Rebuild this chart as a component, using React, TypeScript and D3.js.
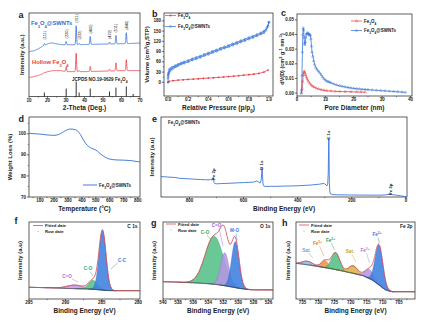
import React from 'react';
import * as d3 from 'd3';

const F = "'Liberation Sans', Arial, Helvetica, sans-serif";
const BLUE = '#2f6fd8';
const RED = '#e63a40';
const INK = '#1a1a1a';

// ---------------- (a) XRD ----------------
const xrdHkl = ['(111)', '(220)', '(311)', '(222)', '(400)', '(422)', '(511)', '(440)'];
const xrdPos = [18.3, 30.1, 35.5, 37.1, 43.1, 53.5, 57.0, 62.6];
const xrdSwntH = [2, 4, 22.6, 1.5, 9.5, 2.4, 10, 13];
const xrdHollowH = [0.6, 6, 22, 1.2, 6, 2, 9.5, 13];
const xrdSwntBase = [[10, 53.6], [13, 55], [15, 57], [18, 61], [20, 63], [22, 64.3], [25, 63], [28, 62], [35, 62], [45, 62.5], [55, 63], [65, 63.5], [70, 64]];
const xrdHollowBase = [[10, 22.6], [15, 25], [20, 29.8], [23, 31], [27, 31], [30, 29.8], [40, 29.8], [50, 30.3], [60, 31], [70, 31]];
const jcpdsPos = [18.3, 30.1, 35.5, 37.1, 43.1, 53.5, 57.0, 62.6, 66.3];
const jcpdsH = [4.8, 9.5, 17.9, 4.8, 9.5, 6, 10.7, 11.9, 3];

// ---------------- (b) N2 isotherms ----------------
const betFe = [[0, 0], [0.01, 3], [0.05, 5], [0.1, 6.5], [0.15, 7.5], [0.2, 8.5], [0.25, 9.5], [0.3, 10.5], [0.35, 11.5], [0.4, 12.5], [0.45, 13.5], [0.5, 14.5], [0.55, 15.5], [0.6, 17], [0.65, 18], [0.7, 19.5], [0.75, 21], [0.8, 22.5], [0.85, 24], [0.9, 26], [0.95, 30], [0.99, 36]];
const betSwAds = [[0, 0], [0.0005, 12], [0.001, 18], [0.002, 22], [0.004, 25], [0.007, 28], [0.01, 30], [0.02, 34], [0.04, 39], [0.06, 43], [0.08, 46], [0.1, 49], [0.13, 53], [0.16, 56], [0.2, 60], [0.24, 65], [0.28, 69], [0.32, 73], [0.36, 78], [0.4, 82], [0.44, 87], [0.48, 91], [0.52, 96], [0.56, 100], [0.6, 104], [0.64, 109], [0.68, 113], [0.72, 118], [0.76, 122], [0.8, 127], [0.84, 131], [0.88, 136], [0.92, 141], [0.95, 145], [0.97, 152], [0.99, 165], [1.0, 176]];
const betSwDes = [[1.0, 176], [0.98, 160], [0.95, 150], [0.92, 145], [0.88, 140], [0.84, 135], [0.8, 131], [0.76, 126], [0.72, 122], [0.68, 117], [0.64, 113], [0.6, 108], [0.56, 104], [0.52, 100], [0.48, 95], [0.44, 91], [0.4, 86], [0.36, 82], [0.32, 77], [0.28, 73], [0.24, 69], [0.2, 64], [0.16, 60], [0.13, 57], [0.1, 53], [0.07, 49], [0.04, 44], [0.02, 40], [0.01, 36]];

// ---------------- (c) pore size distribution ----------------
const psdSw = [[1.5, 0], [1.6, 0.002], [1.75, 0.012], [1.9, 0.028], [2.05, 0.04], [2.2, 0.0445], [2.35, 0.043], [2.5, 0.038], [2.65, 0.034], [2.8, 0.033], [2.95, 0.035], [3.1, 0.038], [3.3, 0.04], [3.5, 0.041], [3.7, 0.0405], [3.9, 0.041], [4.1, 0.0405], [4.3, 0.0395], [4.5, 0.04], [4.7, 0.0395], [4.9, 0.037], [5.1, 0.032], [5.3, 0.028], [5.6, 0.025], [5.9, 0.022], [6.2, 0.0195], [6.6, 0.0175], [7.0, 0.0162], [7.5, 0.015], [8.0, 0.0138], [8.5, 0.0125], [9.0, 0.011], [9.5, 0.0098], [10, 0.0088], [10.5, 0.0082], [11, 0.0078], [11.5, 0.0074], [12, 0.007], [13, 0.0062], [14, 0.0055], [15, 0.005], [16, 0.0046], [17, 0.0042], [18, 0.0038], [19, 0.0035], [20, 0.0032], [21, 0.003], [22, 0.0028], [23, 0.0026], [24, 0.0025], [25, 0.0023], [26.5, 0.0021], [28, 0.0019], [29.5, 0.0017], [31, 0.0015], [32.5, 0.0013], [34, 0.0011], [35.5, 0.0009], [37, 0.0007], [38.2, 0.0005]];
const psdFe = [[1.6, 0], [1.8, 0.003], [2.0, 0.008], [2.2, 0.0125], [2.4, 0.0145], [2.6, 0.0148], [2.8, 0.0138], [3.0, 0.0125], [3.3, 0.011], [3.6, 0.0095], [4.0, 0.008], [4.5, 0.0066], [5.0, 0.0055], [5.5, 0.0047], [6.0, 0.0041], [6.8, 0.0034], [7.6, 0.0028], [8.5, 0.0023], [9.5, 0.0019], [10.5, 0.0016], [12, 0.0014], [13.5, 0.0012], [15, 0.0011], [17, 0.001], [19, 0.0009], [21, 0.0008], [22.5, 0.0007], [24, 0.0006]];

// ---------------- (d) TGA ----------------
const tga = [[21, 100.3], [50, 100.1], [100, 99.9], [150, 99.5], [200, 99.3], [230, 99.6], [260, 100.6], [290, 101.8], [320, 102.3], [350, 102], [370, 101.3], [390, 99.6], [410, 97.2], [430, 95.2], [450, 93.9], [470, 93.1], [500, 92.3], [520, 91.2], [550, 89.6], [575, 88.6], [600, 88], [650, 87.6], [700, 87.5], [750, 87.3], [800, 86.8], [815, 86.7]];

// ---------------- (e) XPS survey ----------------
const survey = [[905, 25.5], [880, 25], [860, 24.5], [850, 24.3], [840, 23.5], [820, 23], [800, 22.7], [780, 22.2], [760, 21.8], [740, 21.6], [726, 21.3], [723, 22.6], [720, 21.6], [714, 21.5], [712, 23.8], [711, 24], [709, 18], [706, 16.8], [700, 16.5], [680, 16.8], [650, 17.2], [620, 17.7], [600, 18], [580, 18.3], [560, 18.8], [551, 20], [545, 19], [539, 17.4], [535, 21], [533, 29], [531.5, 36], [530, 28], [528, 16], [525, 13.8], [520, 13.2], [500, 13.3], [450, 13.6], [400, 14], [350, 15], [320, 16], [306, 16.8], [300, 16.5], [295, 15], [292, 13.8], [289, 16], [287, 30], [285.8, 58], [284.8, 74], [284, 52], [283, 18], [281, 6], [278, 3.7], [270, 2.9], [250, 2.7], [200, 2.5], [150, 2.4], [100, 2.3], [80, 2.5], [70, 3], [60, 3.5], [56, 5], [53, 3.6], [50, 3], [40, 2.5], [30, 2], [20, 1.5], [10, 1], [0, 0.5], [-4, 0.3]];
const surveyPeaks = ['Fe 2p', 'O 1s', 'C 1s', 'Fe 3p'];
const surveyPeakBE = [711, 531.5, 284.8, 56];

// ---------------- (f) C 1s ----------------
const c1sBg = [[279.75, 8.3], [283.5, 8.3], [284.5, 8.6], [285.3, 9.2], [286, 9.6], [287, 10], [288, 10.2], [290, 10.6], [292, 11.2], [295, 11.7]];
const c1sNames = ['C=O', 'C-O', 'C-C'];
const c1sCenter = [288.7, 286.2, 284.9];
const c1sHeight = [3.5, 9, 59.5];
const c1sSigma = [1.1, 0.6, 0.48];

// ---------------- (g) O 1s ----------------
const o1sBg = [[525.4, 9], [528, 9.1], [529, 9.7], [530, 10.8], [531, 12.2], [532, 13.5], [533, 14.6], [534, 15.3], [536, 16.2], [538, 16.8], [540, 17.3]];
const o1sNames = ['C-O', 'C=O', 'M-O'];
const o1sCenter = [533.2, 531.8, 530.4];
const o1sHeight = [48, 33, 46];
const o1sSigma = [1.2, 0.55, 0.5];

// ---------------- (h) Fe 2p ----------------
const fe2pBg = [[700, 7.3], [707, 7.3], [708, 7.8], [709.1, 9], [710, 11], [711.2, 14], [713.3, 19], [716, 23.2], [719, 25.5], [721.6, 27.3], [724, 29], [727, 30.8], [730, 32.5], [733, 34], [737, 35.7]];
const fe2pNames = ['Sat.', 'Fe3+', 'Fe2+', 'Sat.', 'Fe3+', 'Fe2+'];
const fe2pCenter = [733.5, 728.0, 724.7, 719.2, 714.2, 711.2];
const fe2pHeight = [3.5, 7, 17, 7.5, 9, 40];
const fe2pSigma = [1.6, 1.1, 1.3, 1.4, 1.3, 1.2];

// ---------------- helpers ----------------
const gauss = (x: number, c: number, h: number, s: number) => h * Math.exp(-((x - c) ** 2) / (2 * s * s));
const piece = (pts: number[][]) => d3.scaleLinear().domain(pts.map((d) => d[0])).range(pts.map((d) => d[1])).clamp(true);

const Sub = ({ t }: { t: string }) => (
  <tspan baselineShift="sub" fontSize="70%">{t}</tspan>
);
const Sup = ({ t }: { t: string }) => (
  <tspan baselineShift="super" fontSize="70%">{t}</tspan>
);
const FeO = () => (
  <>
    <tspan>Fe</tspan>
    <Sub t="3" />
    <tspan>O</tspan>
    <Sub t="4" />
  </>
);
const ionLabel = (n: string) => {
  const m = n.match(/^Fe(\d\+)$/);
  if (m) return (<><tspan>Fe</tspan><Sup t={m[1]} /></>);
  return n;
};

function Axes(p: any) {
  const [x0, y0, x1, y1] = p.box;
  const fx = p.xFmt || ((v: number) => String(v));
  const fy = p.yFmt || ((v: number) => String(v));
  const ty = p.yTitleY != null ? p.yTitleY : (y0 + y1) / 2;
  return (
    <g>
      <rect x={x0} y={y0} width={x1 - x0} height={y1 - y0} fill="none" stroke={INK} strokeWidth={0.7} />
      {(p.xMinor || []).map((t: number, i: number) => (
        <line key={'xm' + i} x1={p.xs(t)} x2={p.xs(t)} y1={y1} y2={y1 + 1.2} stroke={INK} strokeWidth={0.5} />
      ))}
      {p.xTicks.map((t: number, i: number) => (
        <g key={'x' + i}>
          <line x1={p.xs(t)} x2={p.xs(t)} y1={y1} y2={y1 + 2.2} stroke={INK} strokeWidth={0.6} />
          <text x={p.xs(t)} y={y1 + 5.4} fontSize={4.5} fontWeight="bold" textAnchor="middle" fill={INK}>{fx(t)}</text>
        </g>
      ))}
      {(p.yMinor || []).map((t: number, i: number) => (
        <line key={'ym' + i} x1={x0 - 1.2} x2={x0} y1={p.ys(t)} y2={p.ys(t)} stroke={INK} strokeWidth={0.5} />
      ))}
      {(p.yTicks || []).map((t: number, i: number) => (
        <g key={'y' + i}>
          <line x1={x0 - 2.2} x2={x0} y1={p.ys(t)} y2={p.ys(t)} stroke={INK} strokeWidth={0.6} />
          <text x={x0 - 3} y={p.ys(t) + 1.6} fontSize={4.5} fontWeight="bold" textAnchor="end" fill={INK}>{fy(t)}</text>
        </g>
      ))}
      <text x={(x0 + x1) / 2} y={y1 + 13.6} fontSize={6.5} fontWeight="bold" textAnchor="middle" fill={INK}>{p.xTitle}</text>
      <text transform={`translate(${p.yTitleX},${ty}) rotate(-90)`} fontSize={p.yTitleSize || 6} fontWeight="bold" textAnchor="middle" fill={INK}>{p.yTitle}</text>
      <text x={p.lx} y={p.ly} fontSize={9} fontWeight="bold" fill={INK}>{p.letter}</text>
    </g>
  );
}

// ---------------- panels ----------------
function PanelA() {
  const box = [29, 13, 140, 96.5];
  const xs = d3.scaleLinear().domain([10, 70]).range([29, 140]);
  const ys = d3.scaleLinear().domain([0, 100]).range([96.5, 13]);
  const grid = d3.range(10, 70.0001, 0.05);
  const make = (base: number[][], hs: number[]) => {
    const b = piece(base);
    return grid.map((x) => [x, b(x) + d3.sum(xrdPos, (p: number, i: number) => gauss(x, p, hs[i], 0.22))]);
  };
  const sw = make(xrdSwntBase, xrdSwntH);
  const ho = make(xrdHollowBase, xrdHollowH);
  const line = d3.line<number[]>().x((d) => xs(d[0])).y((d) => ys(d[1]));
  const bSw = piece(xrdSwntBase);
  return (
    <g>
      <Axes box={box} xs={xs} xTicks={d3.range(10, 71, 10)} xMinor={d3.range(15, 70, 10)}
        xTitle="2-Theta (Deg.)" yTitle="Intensity (a.u.)" yTitleX={24} letter="a" lx={18.5} ly={18} />
      <path d={line(ho) || ''} fill="none" stroke={RED} strokeWidth={0.8} />
      <path d={line(sw) || ''} fill="none" stroke={BLUE} strokeWidth={0.8} />
      {jcpdsPos.map((p, i) => (
        <line key={i} x1={xs(p)} x2={xs(p)} y1={ys(0)} y2={ys(jcpdsH[i])} stroke={INK} strokeWidth={0.9} />
      ))}
      {xrdHkl.map((h, i) => {
        const top = ys(bSw(xrdPos[i]) + xrdSwntH[i]);
        const bottom = Math.min(top - 3, 39.5);
        return (
          <text key={h} transform={`translate(${xs(xrdPos[i]) + 1.4},${bottom}) rotate(-90)`} fontSize={3.9} fill={INK}>{h}</text>
        );
      })}
      <text x={31} y={25} fontSize={5.8} fontWeight="bold" fill={BLUE}><FeO />@SWNTs</text>
      <text x={32} y={63.5} fontSize={5.8} fontWeight="bold" fill={RED}>Hollow <FeO /></text>
      <text x={72} y={81} fontSize={4.6} fontWeight="bold" fill={INK}>JCPDS NO.19-0629 <FeO /></text>
    </g>
  );
}

function PanelB() {
  const box = [164, 13, 273, 96];
  const xs = d3.scaleLinear().domain([-0.04, 1.04]).range([164, 273]);
  const ys = d3.scaleLinear().domain([-40, 203]).range([96, 13]);
  const line = d3.line<number[]>().x((d) => xs(d[0])).y((d) => ys(d[1]));
  return (
    <g>
      <Axes box={box} xs={xs} xTicks={d3.range(0, 1.01, 0.2)} xMinor={d3.range(0.1, 1, 0.2)} xFmt={(v: number) => v.toFixed(1)}
        ys={ys} yTicks={d3.range(0, 181, 30)} yMinor={d3.range(15, 180, 30)}
        xTitle={<><tspan>Relative Pressure (p/p</tspan><Sub t="0" /><tspan>)</tspan></>}
        yTitle={<><tspan>Volume (cm</tspan><Sup t="3" /><tspan>/g,STP)</tspan></>} yTitleX={149}
        letter="b" lx={152} ly={17} />
      <path d={line(betFe) || ''} fill="none" stroke={RED} strokeWidth={0.75} />
      {betFe.map((d, i) => <circle key={'r' + i} cx={xs(d[0])} cy={ys(d[1])} r={0.9} fill={RED} />)}
      <path d={line(betSwAds) || ''} fill="none" stroke={BLUE} strokeWidth={0.75} />
      <path d={line(betSwDes) || ''} fill="none" stroke={BLUE} strokeWidth={0.75} />
      {betSwAds.map((d, i) => <circle key={'a' + i} cx={xs(d[0])} cy={ys(d[1])} r={1} fill="none" stroke={BLUE} strokeWidth={0.5} />)}
      {betSwDes.map((d, i) => <circle key={'d' + i} cx={xs(d[0])} cy={ys(d[1])} r={1} fill="none" stroke={BLUE} strokeWidth={0.5} />)}
      <line x1={165} x2={176} y1={15.5} y2={15.5} stroke={RED} strokeWidth={0.7} />
      <circle cx={170.5} cy={15.5} r={0.9} fill={RED} />
      <text x={178} y={17.2} fontSize={4.5} fontWeight="bold" fill={INK}><FeO /></text>
      <line x1={165} x2={176} y1={26.5} y2={26.5} stroke={BLUE} strokeWidth={0.7} />
      <circle cx={170.5} cy={26.5} r={1} fill="none" stroke={BLUE} strokeWidth={0.5} />
      <text x={178} y={28.2} fontSize={4.5} fontWeight="bold" fill={INK}><FeO />@SWNTs</text>
    </g>
  );
}

function PanelC() {
  const box = [297, 14, 412, 96];
  const xs = d3.scaleLinear().domain([0, 40.5]).range([297, 412]);
  const ys = d3.scaleLinear().domain([-0.002, 0.054]).range([96, 14]);
  const line = d3.line<number[]>().x((d) => xs(d[0])).y((d) => ys(d[1]));
  const tri = d3.symbol().type(d3.symbolTriangle).size(2.6)() || '';
  return (
    <g>
      <Axes box={box} xs={xs} xTicks={[0, 10, 20, 30, 40]} xMinor={[5, 15, 25, 35]}
        ys={ys} yTicks={[0, 0.01, 0.02, 0.03, 0.04, 0.05]} yFmt={(v: number) => v.toFixed(2)}
        xTitle="Pore Diameter (nm)"
        yTitle={<><tspan>dV(D) (cm</tspan><Sup t="3" /><tspan> g</tspan><Sup t="-1" /><tspan> nm</tspan><Sup t="-1" /><tspan>)</tspan></>}
        yTitleX={284} yTitleY={59} yTitleSize={5.5} letter="c" lx={281} ly={16} />
      <path d={line(psdFe) || ''} fill="none" stroke={RED} strokeWidth={0.75} />
      {psdFe.map((d, i) => <path key={'r' + i} d={tri} transform={`translate(${xs(d[0])},${ys(d[1])})`} fill="none" stroke={RED} strokeWidth={0.4} />)}
      <path d={line(psdSw) || ''} fill="none" stroke={BLUE} strokeWidth={0.75} />
      {psdSw.map((d, i) => <path key={'b' + i} d={tri} transform={`translate(${xs(d[0])},${ys(d[1])})`} fill="none" stroke={BLUE} strokeWidth={0.4} />)}
      <line x1={351} x2={362} y1={21} y2={21} stroke={RED} strokeWidth={0.7} />
      <path d={tri} transform="translate(356.5,21)" fill="none" stroke={RED} strokeWidth={0.4} />
      <text x={364} y={22.7} fontSize={4.5} fontWeight="bold" fill={INK}><FeO /></text>
      <line x1={351} x2={362} y1={30.5} y2={30.5} stroke={BLUE} strokeWidth={0.7} />
      <path d={tri} transform="translate(356.5,30.5)" fill="none" stroke={BLUE} strokeWidth={0.4} />
      <text x={364} y={32.2} fontSize={4.5} fontWeight="bold" fill={INK}><FeO />@SWNTs</text>
    </g>
  );
}

function PanelD() {
  const box = [29, 117, 140, 197];
  const xs = d3.scaleLinear().domain([21, 816]).range([29, 140]);
  const ys = d3.scaleLinear().domain([70, 108]).range([197, 117]);
  const line = d3.line<number[]>().x((d) => xs(d[0])).y((d) => ys(d[1])).curve(d3.curveMonotoneX);
  return (
    <g>
      <Axes box={box} xs={xs} xTicks={d3.range(100, 801, 100)} xMinor={d3.range(50, 816, 100)}
        ys={ys} yTicks={[70, 80, 90, 100]} yMinor={[75, 85, 95, 105]}
        xTitle="Temperature (°C)" yTitle="Weight Loss (%)" yTitleX={12}
        letter="d" lx={18.5} ly={122} />
      <path d={line(tga) || ''} fill="none" stroke={BLUE} strokeWidth={0.9} />
      <line x1={83} x2={97} y1={185} y2={185} stroke={BLUE} strokeWidth={0.9} />
      <text x={99} y={186.6} fontSize={4.5} fontWeight="bold" fill={INK}><FeO />@SWNTs</text>
    </g>
  );
}

function PanelE() {
  const box = [161, 117, 407, 197];
  const xs = d3.scaleLinear().domain([905, -4]).range([161, 407]);
  const ys = d3.scaleLinear().domain([0, 100]).range([197, 117]);
  const line = d3.line<number[]>().x((d) => xs(d[0])).y((d) => ys(d[1]));
  const sv = piece([...survey].sort((a, b) => a[0] - b[0]));
  return (
    <g>
      <Axes box={box} xs={xs} xTicks={[800, 600, 400, 200, 0]} xMinor={[700, 500, 300, 100]}
        xTitle="Binding Energy (eV)" yTitle="Intensity (a.u)" yTitleX={154}
        letter="e" lx={152} ly={122} />
      <path d={line(survey) || ''} fill="none" stroke={BLUE} strokeWidth={0.85} />
      {surveyPeaks.map((n, i) => {
        const be = surveyPeakBE[i];
        const top = Math.min(ys(sv(be)), ys(sv(be + 1)));
        return (
          <text key={n} transform={`translate(${xs(be) + 1.2},${top + 2}) rotate(-90)`} fontSize={4.4} fontWeight="bold" fill={INK}>{n}</text>
        );
      })}
      <text x={168} y={124} fontSize={4.5} fontWeight="bold" fill={INK}><FeO />@SWNTs</text>
    </g>
  );
}

const FILLS: any = {
  blue: ['#3e80e0', '#2a63c0'],
  green: ['#55bf88', '#2f9a63'],
  purple: ['#b496e4', '#8a66c8'],
  pink: ['#c99ae6', '#9a6ccc'],
  orange: ['#f4924a', '#d7702a'],
  gold: ['#d9b449', '#b08d25'],
  sky: ['#95b9e8', '#6a94cc'],
};

function XpsPanel(p: any) {
  const [x0, y0, x1, y1] = p.box;
  const xs = d3.scaleLinear().domain(p.dom).range([x0, x1]);
  const ys = d3.scaleLinear().domain([0, y1 - y0]).range([y1, y0]);
  const bg = piece(p.bg);
  const lo = Math.min(p.dom[0], p.dom[1]);
  const hi = Math.max(p.dom[0], p.dom[1]);
  const grid = d3.range(lo, hi + 0.0001, 0.04);
  const env = grid.map((x) => [x, bg(x) + d3.sum(p.centers, (c: number, i: number) => gauss(x, c, p.heights[i], p.sigmas[i]))]);
  const line = d3.line<number[]>().x((d) => xs(d[0])).y((d) => ys(d[1]));
  const dots = d3.range(lo + 0.1, hi, p.dotStep).map((x) => [x, bg(x) + d3.sum(p.centers, (c: number, i: number) => gauss(x, c, p.heights[i], p.sigmas[i]))]);
  return (
    <g>
      <Axes box={p.box} xs={xs} xTicks={p.xTicks} xMinor={p.xMinor}
        xTitle="Binding Energy (eV)" yTitle="Intensity (a.u)" yTitleX={p.yTitleX}
        letter={p.letter} lx={p.lx} ly={p.ly} />
      {p.centers.map((c: number, i: number) => {
        const s = p.sigmas[i];
        const xsr = d3.range(Math.max(lo, c - 4 * s), Math.min(hi, c + 4 * s) + 0.0001, 0.03);
        const area = d3.area<number>().x((x) => xs(x)).y0((x) => ys(bg(x))).y1((x) => ys(bg(x) + gauss(x, c, p.heights[i], s)));
        const col = FILLS[p.colors[i]];
        return <path key={i} d={area(xsr) || ''} fill={col[0]} fillOpacity={0.88} stroke={col[1]} strokeWidth={0.35} />;
      })}
      <path d={line(grid.map((x) => [x, bg(x)])) || ''} fill="none" stroke="#2b2b3a" strokeWidth={0.75} />
      {dots.map((d, i) => <circle key={i} cx={xs(d[0])} cy={ys(d[1]) - 0.3} r={0.32} fill="#555" />)}
      <path d={line(env) || ''} fill="none" stroke="#e04850" strokeWidth={0.8} />
      {/* legend */}
      <line x1={p.legX} x2={p.legX + 10} y1={p.legY} y2={p.legY} stroke="#e04850" strokeWidth={0.8} />
      <text x={p.legX + 12} y={p.legY + 1.5} fontSize={4.2} fontWeight="bold" fill={INK}>Fitted date</text>
      <circle cx={p.legX + 5} cy={p.legY + 6} r={0.45} fill="#555" />
      <text x={p.legX + 12} y={p.legY + 7.5} fontSize={4.2} fontWeight="bold" fill={INK}>Row date</text>
      <text x={x1 - 2.5} y={y0 + 5.5} fontSize={4.8} fontWeight="bold" textAnchor="end" fill={INK}>{p.corner}</text>
      {p.labels.map((l: any, i: number) => (
        <g key={'l' + i}>
          <text x={l.x} y={l.y} fontSize={4.6} fontWeight="bold" textAnchor="middle" fill={l.c}>{ionLabel(p.names[i])}</text>
          <line x1={l.p[0]} y1={l.p[1]} x2={l.p[2]} y2={l.p[3]} stroke={l.c} strokeWidth={0.45} />
        </g>
      ))}
    </g>
  );
}

export default function App() {
  return (
    <svg width={421} height={326} viewBox="0 0 421 326" fontFamily={F}
      style={{ position: 'absolute', left: 0, top: 0, background: '#fff' }}>
      <rect width={421} height={326} fill="#fff" />
      <PanelA />
      <PanelB />
      <PanelC />
      <PanelD />
      <PanelE />
      <XpsPanel box={[29, 222, 140, 299]} dom={[295, 279.75]} bg={c1sBg}
        centers={c1sCenter} heights={c1sHeight} sigmas={c1sSigma} names={c1sNames}
        colors={['pink', 'green', 'blue']} xTicks={[295, 290, 285, 280]} xMinor={[292.5, 287.5, 282.5]}
        yTitleX={22} letter="f" lx={14.5} ly={224} legX={33} legY={225.5} corner="C 1s" dotStep={0.12}
        labels={[
          { x: 67, y: 278, c: '#b16fd6', p: [72, 279, 78, 282] },
          { x: 88, y: 270, c: '#33a866', p: [90, 271.5, 93, 276] },
          { x: 122, y: 262, c: '#3a7bdc', p: [117.5, 263, 111, 269] },
        ]} />
      <XpsPanel box={[163, 222, 273, 299]} dom={[540, 525.4]} bg={o1sBg}
        centers={o1sCenter} heights={o1sHeight} sigmas={o1sSigma} names={o1sNames}
        colors={['green', 'purple', 'blue']} xTicks={d3.range(540, 525, -2)} xMinor={d3.range(539, 525, -2)}
        yTitleX={156} letter="g" lx={151} ly={226} legX={166} legY={224} corner="O 1s" dotStep={0.11}
        labels={[
          { x: 205, y: 233.5, c: '#33a866', p: [207, 235, 211, 240] },
          { x: 216.5, y: 226.5, c: '#9a68d6', p: [219, 228, 223, 246] },
          { x: 234.5, y: 232, c: '#3a7bdc', p: [236, 233.5, 237, 240] },
        ]} />
      <XpsPanel box={[296, 222, 415, 299]} dom={[737, 700]} bg={fe2pBg}
        centers={fe2pCenter} heights={fe2pHeight} sigmas={fe2pSigma} names={fe2pNames}
        colors={['sky', 'orange', 'green', 'gold', 'purple', 'blue']} xTicks={d3.range(735, 704, -5)} xMinor={d3.range(732.5, 700, -5)}
        yTitleX={290} letter="h" lx={282} ly={226} legX={299} legY={225} corner="Fe 2p" dotStep={0.3}
        labels={[
          { x: 306.5, y: 251.5, c: '#6f9edc', p: [308.5, 253, 313, 258] },
          { x: 317.5, y: 244.5, c: '#f07a2a', p: [319.5, 246, 324, 256] },
          { x: 330.5, y: 241.5, c: '#2fa060', p: [331.5, 243, 334.5, 250] },
          { x: 350, y: 253, c: '#d0a020', p: [352, 254.5, 356, 262] },
          { x: 365, y: 251.5, c: '#b07ad8', p: [366.5, 253, 369.5, 263] },
          { x: 377, y: 236, c: '#3a7bdc', p: [378, 237.5, 379.5, 243] },
        ]} />
    </svg>
  );
}
